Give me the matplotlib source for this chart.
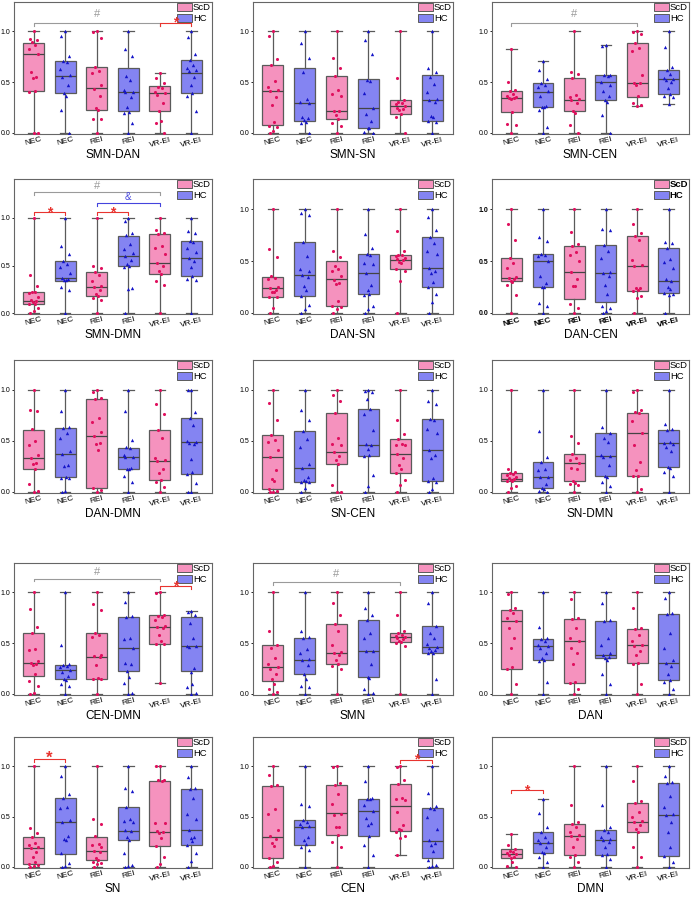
import matplotlib
matplotlib.use('Agg')
import matplotlib.pyplot as plt
from matplotlib.patches import Patch

plt.rcParams['font.family'] = ['Liberation Sans', 'DejaVu Sans']

groups = ['NEC', 'NEC', 'REI', 'REI', 'VR-EI', 'VR-EI']
panels = ['SMN-DAN', 'SMN-SN', 'SMN-CEN',
          'SMN-DMN', 'DAN-SN', 'DAN-CEN',
          'DAN-DMN', 'SN-CEN', 'SN-DMN',
          'CEN-DMN', 'SMN', 'DAN',
          'SN', 'CEN', 'DMN']

# box stats per group: (whisker low, q1, median, q3, whisker high)
smn_dan = [(0, .41, .78, .89, 1), (0, .39, .56, .71, 1), (0, .23, .44, .65, 1),
           (0, .22, .40, .64, 1), (0, .22, .39, .46, .59), (0, .39, .59, .72, 1)]
smn_sn = [(0, .08, .41, .67, 1), (0, .12, .30, .64, 1), (0, .14, .22, .56, 1),
          (0, .05, .25, .53, 1), (0, .19, .27, .32, 1), (0, .12, .32, .57, 1)]
smn_cen = [(0, .21, .34, .41, .83), (0, .26, .40, .49, .71), (0, .22, .32, .54, 1),
           (0, .32, .50, .57, .87), (.27, .35, .49, .89, 1), (.29, .38, .53, .62, 1)]
smn_dmn = [(0, .09, .13, .22, 1), (0, .34, .37, .55, 1), (0, .18, .27, .43, 1),
           (0, .49, .60, .81, 1), (0, .41, .53, .83, 1), (0, .39, .58, .76, 1)]
dan_sn = [(0, .15, .24, .35, 1), (0, .16, .37, .68, 1), (0, .07, .33, .50, 1),
          (0, .18, .38, .57, 1), (0, .42, .51, .56, 1), (0, .25, .43, .73, 1)]
dan_cen = [(0, .31, .34, .53, 1), (0, .25, .50, .57, 1), (0, .13, .39, .64, 1),
           (0, .11, .38, .65, 1), (0, .21, .45, .74, 1), (0, .19, .31, .63, 1)]
dan_dmn = [(0, .22, .33, .61, 1), (0, .15, .37, .63, 1), (0, .04, .55, .91, 1),
           (0, .22, .34, .43, 1), (0, .12, .30, .61, 1), (0, .18, .49, .72, 1)]
sn_cen = [(0, .03, .34, .56, 1), (0, .10, .23, .60, 1), (0, .27, .39, .77, 1),
          (0, .35, .46, .81, 1), (0, .19, .37, .52, 1), (0, .11, .41, .71, 1)]
sn_dmn = [(0, .11, .13, .19, 1), (0, .04, .15, .29, 1), (0, .11, .28, .37, 1),
          (0, .16, .35, .58, 1), (0, .16, .58, .77, 1), (0, .24, .48, .61, 1)]
cen_dmn = [(0, .18, .31, .60, 1), (0, .15, .24, .29, 1), (0, .15, .36, .60, 1),
           (0, .23, .45, .76, 1), (.11, .49, .66, .78, 1), (0, .23, .47, .76, .82)]
smn = [(0, .13, .27, .48, 1), (0, .20, .33, .55, 1), (0, .30, .40, .69, 1),
       (0, .17, .42, .73, 1), (0, .51, .56, .60, 1), (0, .40, .46, .67, 1)]
dan = [(0, .25, .72, .83, 1), (0, .33, .47, .54, 1), (0, .11, .52, .74, 1),
       (0, .35, .38, .72, 1), (0, .31, .48, .64, 1), (0, .14, .31, .79, 1)]
sn = [(0, .03, .19, .30, 1), (0, .13, .45, .68, 1), (0, .07, .16, .30, 1),
      (0, .27, .36, .60, 1), (0, .21, .35, .85, 1), (0, .22, .37, .77, 1)]
cen = [(0, .09, .30, .80, 1), (0, .22, .40, .47, 1), (0, .32, .54, .81, 1),
       (0, .31, .56, .67, 1), (.12, .36, .61, .82, 1), (0, .09, .26, .59, 1)]
dmn = [(0, .09, .13, .18, .33), (0, .14, .24, .35, .67), (0, .12, .31, .43, 1),
       (0, .12, .27, .37, 1), (0, .35, .45, .64, 1), (0, .11, .52, .83, 1)]

# individual subject values per group
smn_dan_pts = [
    [1, .93, .92, .90, .87, .83, .78, .60, .55, .54, .41, .40, 0, 0],
    [1, .96, .76, .71, .70, .63, .57, .55, .47, .39, .36, .23, 0],
    [1, .99, .94, .65, .61, .59, .47, .43, .36, .25, .23, .14, .14, 0],
    [1, .83, .76, .56, .52, .42, .40, .40, .35, .26, .21, .20, .10, 0],
    [.59, .54, .49, .45, .44, .40, .39, .37, .30, .22, .12, .10, 0],
    [1, .95, .78, .72, .67, .64, .62, .61, .55, .47, .39, .36, .22, 0]]
smn_sn_pts = [
    [1, .96, .73, .67, .51, .45, .42, .41, .35, .28, .11, .07, .06, .02, 0],
    [1, .89, .74, .60, .33, .31, .30, .16, .15, .13, .11, .10, 0],
    [1, .74, .64, .56, .42, .38, .36, .22, .22, .18, .14, .10, .07, 0],
    [1, .92, .78, .52, .51, .39, .25, .19, .12, .05, .05, .01, 0],
    [1, .54, .32, .31, .30, .29, .27, .25, .24, .23, .19, .16, 0],
    [1, .64, .60, .55, .48, .40, .33, .32, .31, .17, .16, .12, .11, 0]]
smn_cen_pts = [
    [.83, .50, .42, .41, .38, .36, .35, .34, .34, .33, .21, .09, .08, 0],
    [.71, .62, .53, .49, .47, .45, .41, .36, .27, .26, .26, .23, .06, 0],
    [1, .60, .58, .54, .37, .35, .33, .32, .30, .22, .20, .08, 0],
    [.87, .86, .57, .57, .56, .50, .47, .41, .36, .32, .31, .18, 0],
    [1, .99, .97, .89, .84, .81, .57, .49, .49, .47, .36, .30, .28, .27],
    [1, .85, .65, .62, .58, .54, .53, .52, .50, .44, .38, .36, .35, .29]]
smn_dmn_pts = [
    [1, .40, .28, .22, .22, .21, .17, .14, .13, .12, .10, .09, .05, .02, 0],
    [1, .71, .62, .55, .52, .48, .42, .37, .36, .35, .35, .27, .24, 0],
    [1, .49, .47, .43, .40, .34, .28, .27, .24, .20, .18, .16, .14, 0],
    [1, .97, .84, .82, .73, .67, .63, .60, .56, .52, .49, .48, .26, .25, 0],
    [1, .87, .84, .83, .71, .68, .62, .53, .50, .44, .41, .34, .29, 0],
    [1, .86, .84, .76, .75, .68, .64, .58, .55, .48, .39, .36, .35, 0]]
dan_sn_pts = [
    [1, .62, .54, .36, .34, .33, .25, .24, .22, .20, .20, .15, .15, .05, 0],
    [1, .96, .94, .68, .55, .42, .40, .37, .35, .26, .22, .16, .08, .04, 0],
    [1, .60, .54, .45, .42, .40, .36, .32, .29, .28, .12, .07, .06, .04, 0],
    [1, .76, .63, .57, .56, .48, .47, .38, .27, .22, .18, .17, .07, .04, 0],
    [1, .79, .60, .56, .56, .55, .53, .52, .51, .49, .48, .42, .40, .31, 0],
    [1, .92, .80, .73, .67, .60, .57, .43, .40, .38, .30, .25, .18, .11, 0]]
dan_cen_pts = [
    [1, .86, .70, .53, .48, .43, .35, .34, .33, .31, .30, .27, .17, 0],
    [1, .73, .69, .57, .56, .55, .50, .36, .29, .25, .25, .10, .07, 0],
    [1, .78, .66, .64, .59, .56, .50, .39, .33, .26, .26, .09, .05, 0],
    [1, .81, .80, .65, .60, .53, .39, .38, .36, .27, .18, .07, .05, .02, 0],
    [1, .86, .77, .74, .70, .51, .46, .45, .24, .24, .22, .21, .16, .14, 0],
    [1, .68, .67, .63, .52, .49, .43, .33, .31, .25, .23, .19, .18, .17, 0]]
dan_dmn_pts = [
    [1, .80, .79, .62, .50, .46, .36, .33, .28, .27, .22, .08, .01, 0],
    [1, .79, .64, .63, .58, .53, .40, .37, .26, .25, .15, .14, .14, .01, 0],
    [1, .98, .92, .91, .72, .68, .59, .55, .48, .47, .41, .04, .02, 0],
    [1, .79, .51, .44, .43, .36, .34, .34, .23, .22, .22, .16, .10, 0],
    [1, .86, .76, .61, .53, .33, .31, .30, .22, .19, .12, .10, .05, 0],
    [1, 1, .78, .72, .65, .50, .49, .48, .47, .32, .20, .18, .09, 0, 0]]
sn_cen_pts = [
    [1, .87, .70, .56, .51, .49, .41, .34, .21, .13, .11, .03, .01, 0, 0],
    [1, .80, .70, .60, .52, .44, .27, .23, .15, .12, .11, .10, .10, .04, 0],
    [1, .95, .89, .77, .53, .47, .46, .39, .35, .31, .27, .07, 0, 0],
    [1, .99, .98, .91, .81, .76, .61, .47, .46, .42, .36, .35, .17, .06, 0],
    [1, .70, .57, .52, .47, .46, .46, .37, .33, .26, .22, .19, .12, .07, 0],
    [1, .89, .86, .71, .70, .62, .58, .41, .36, .33, .14, .11, .10, .03, 0]]
sn_dmn_pts = [
    [1, .22, .20, .19, .18, .17, .15, .14, .13, .12, .11, .11, .06, .04, 0],
    [1, .60, .34, .29, .22, .21, .15, .15, .08, .04, .03, .01, 0],
    [1, .55, .48, .37, .33, .31, .28, .23, .22, .11, .09, .08, .07, 0],
    [1, .64, .58, .53, .49, .36, .35, .34, .26, .16, .15, .10, .06, 0],
    [1, .98, .80, .78, .77, .69, .58, .46, .29, .21, .16, .16, .03, 0],
    [1, .66, .62, .61, .49, .48, .47, .44, .40, .24, .23, .20, .16, 0]]
cen_dmn_pts = [
    [1, .84, .66, .60, .44, .43, .32, .31, .30, .29, .20, .13, .08, .01, 0],
    [1, .48, .30, .29, .28, .27, .24, .22, .18, .15, .14, .10, .08, 0],
    [1, .89, .83, .60, .58, .56, .38, .37, .36, .29, .16, .15, .15, 0],
    [1, .91, .77, .76, .55, .54, .45, .31, .30, .23, .17, .11, .01, 0],
    [1, .99, .78, .77, .76, .73, .67, .66, .65, .58, .52, .49, .49, .11],
    [.82, .81, .78, .70, .55, .47, .47, .46, .26, .22, .10, .07, .01, 0]]
smn_pts = [
    [1, .62, .48, .45, .35, .30, .27, .25, .20, .15, .10, .05, .02, 0],
    [1, .62, .56, .55, .44, .40, .34, .33, .29, .20, .15, .08, .07, 0],
    [1, .90, .78, .69, .62, .48, .41, .40, .38, .33, .30, .28, .25, 0],
    [1, .85, .78, .73, .60, .55, .42, .42, .30, .17, .16, .05, .01, 0],
    [1, .78, .62, .60, .58, .57, .56, .55, .54, .52, .51, .50, .47, 0],
    [1, .90, .67, .60, .55, .49, .46, .45, .43, .42, .40, .40, .15, 0]]
dan_pts = [
    [1, .98, .85, .83, .80, .75, .72, .65, .55, .45, .27, .25, .10, 0],
    [1, .66, .55, .54, .52, .48, .47, .45, .40, .35, .33, .32, .12, 0],
    [1, .94, .75, .74, .65, .55, .52, .45, .40, .30, .12, .11, .05, 0],
    [1, .90, .73, .72, .55, .48, .40, .38, .36, .35, .33, .20, .10, 0],
    [1, .85, .65, .64, .58, .52, .48, .47, .42, .38, .31, .30, .10, 0],
    [1, .95, .80, .79, .60, .45, .33, .31, .28, .20, .14, .12, .05, 0]]
sn_pts = [
    [1, .39, .34, .30, .24, .22, .20, .19, .15, .10, .05, .03, .02, .01, 0],
    [1, .90, .72, .68, .60, .59, .47, .45, .31, .28, .27, .14, .04, .01, 0],
    [1, .48, .43, .31, .23, .22, .20, .16, .15, .09, .07, .05, .04, .03, 0],
    [1, .78, .75, .60, .48, .46, .45, .37, .36, .30, .27, .14, .02, .01, 0],
    [1, 1, .86, .86, .85, .44, .44, .36, .35, .34, .29, .21, .10, .03, 0],
    [1, .89, .78, .77, .68, .53, .48, .37, .30, .29, .26, .22, .14, .06, 0]]
cen_pts = [
    [1, .91, .81, .80, .58, .53, .37, .31, .28, .24, .21, .09, .05, .01, 0],
    [1, .63, .61, .47, .45, .43, .41, .40, .30, .27, .23, .20, .17, 0],
    [1, .99, .83, .81, .72, .63, .53, .52, .40, .40, .32, .25, .20, 0],
    [1, .85, .68, .67, .67, .62, .56, .49, .44, .42, .31, .22, .12, 0],
    [1, .99, .86, .82, .68, .67, .66, .55, .42, .38, .37, .35, .31, .29, .12],
    [1, .73, .61, .59, .58, .50, .38, .27, .24, .22, .16, .07, .02, .01, 0]]
dmn_pts = [
    [.33, .22, .18, .16, .15, .14, .13, .12, .10, .09, .05, .01, 0],
    [.67, .54, .40, .35, .30, .27, .25, .24, .20, .15, .14, .10, .05, 0],
    [1, .62, .45, .43, .40, .35, .32, .31, .28, .20, .12, .10, .05, 0],
    [1, .62, .40, .37, .35, .30, .28, .27, .25, .20, .13, .12, .08, 0],
    [1, .85, .65, .64, .55, .50, .46, .45, .42, .38, .35, .20, .10, 0],
    [1, .90, .84, .83, .70, .60, .53, .52, .45, .35, .20, .11, .05, 0]]

all_stats = [smn_dan, smn_sn, smn_cen, smn_dmn, dan_sn, dan_cen, dan_dmn, sn_cen,
             sn_dmn, cen_dmn, smn, dan, sn, cen, dmn]
all_pts = [smn_dan_pts, smn_sn_pts, smn_cen_pts, smn_dmn_pts, dan_sn_pts, dan_cen_pts,
           dan_dmn_pts, sn_cen_pts, sn_dmn_pts, cen_dmn_pts, smn_pts, dan_pts, sn_pts,
           cen_pts, dmn_pts]

pink = '#f592be'
blue = '#8484f2'
pink_dot = '#e0105e'
blue_dot = '#1414c8'
edge = '#5a5a5a'

W, H = 692, 897
fig = plt.figure(figsize=(W / 100, H / 100), dpi=100)

cols = [(14, 212), (253, 453), (492, 689)]
rows = [(2, 134), (179, 314), (360, 493), (563, 695), (737, 868)]

jit = [0, -0.12, 0.12, -0.06, 0.06, -0.15, 0.15, -0.09, 0.09, -0.03, 0.03, -0.13, 0.13, 0, -0.1]


def bracket(ax, x1, x2, y, color, txt, ty, fs=8, leg=0.03):
    ax.plot([x1, x1, x2, x2], [y - leg, y, y, y - leg], color=color, lw=0.8)
    if txt == '*':
        # asterisk glyph sits high in its box, so pull it down
        ax.text((x1 + x2) / 2, ty - 0.06, txt, color=color, ha='center', va='center',
                fontsize=fs, fontweight='bold', zorder=6)
    else:
        ax.text((x1 + x2) / 2, ty, txt, color=color, ha='center', va='center', fontsize=fs)


for k, name in enumerate(panels):
    r, c = divmod(k, 3)
    x0, x1 = cols[c]
    yt, yb = rows[r]
    ax = fig.add_axes([x0 / W, 1 - yb / H, (x1 - x0) / W, (yb - yt) / H])
    ymax = 1.41 if name == 'SMN-DMN' else 1.29
    stats = []
    for lo, q1, med, q3, hi in all_stats[k]:
        stats.append({'whislo': lo, 'q1': q1, 'med': med, 'q3': q3, 'whishi': hi, 'fliers': []})
    bp = ax.bxp(stats, positions=range(1, 7), widths=0.66, patch_artist=True,
                showfliers=False,
                boxprops=dict(edgecolor=edge, linewidth=0.9),
                medianprops=dict(color='#444444', linewidth=0.9),
                whiskerprops=dict(color=edge, linewidth=0.9),
                capprops=dict(color=edge, linewidth=0.9), capwidths=0.33)
    for i, b in enumerate(bp['boxes']):
        b.set_facecolor(pink if i % 2 == 0 else blue)
    for i, vals in enumerate(all_pts[k]):
        xs = [i + 1 + jit[j % len(jit)] for j in range(len(vals))]
        if i % 2 == 0:
            ax.scatter(xs, vals, s=5, color=pink_dot, marker='o', zorder=3, linewidths=0)
        else:
            ax.scatter(xs, vals, s=6, color=blue_dot, marker='^', zorder=3, linewidths=0)

    ax.set_xlim(0.38, 6.65)
    ax.set_ylim(-0.01, ymax)
    ax.set_yticks([0, 0.5, 1.0])
    ax.set_yticklabels(['0.0', '0.5', '1.0'], fontsize=5)
    bold = 'bold' if name == 'DAN-CEN' else 'normal'
    ax.set_xticks(range(1, 7))
    ax.set_xticklabels(groups, fontsize=6, rotation=15, fontweight=bold)
    for lab in ax.get_yticklabels():
        lab.set_fontweight(bold)
    ax.tick_params(axis='x', length=0, pad=1.5)
    ax.tick_params(axis='y', length=1.5, width=0.6, pad=1)
    for s in ax.spines.values():
        s.set_color('#666666')
        s.set_linewidth(0.8)
    ax.set_xlabel(name, fontsize=8.5, labelpad=0.5)

    handles = [Patch(facecolor=pink, edgecolor=edge, linewidth=0.7, label='ScD'),
               Patch(facecolor=blue, edgecolor=edge, linewidth=0.7, label='HC')]
    leg = ax.legend(handles=handles, loc='upper right', frameon=False, fontsize=6.8,
                    handlelength=1.6, handleheight=1.0, handletextpad=0.1,
                    labelspacing=0.15, borderaxespad=0.0, borderpad=0.1)
    leg.set_zorder(4)
    if name == 'DAN-CEN':
        for t in leg.get_texts():
            t.set_fontweight('bold')

    gray = '#9a9a9a'
    red = '#e8342f'
    if name == 'SMN-DAN':
        bracket(ax, 1, 5, 1.08, gray, '#', 1.17)
        bracket(ax, 5, 6, 1.08, red, '*', 1.15, fs=10)
    elif name == 'SMN-CEN':
        bracket(ax, 1, 5, 1.08, gray, '#', 1.17)
    elif name == 'SMN-DMN':
        bracket(ax, 1, 5, 1.27, gray, '#', 1.34)
        bracket(ax, 3, 5, 1.16, '#4444dd', '&', 1.22, fs=7)
        bracket(ax, 1, 2, 1.06, red, '*', 1.12, fs=10)
        bracket(ax, 3, 4, 1.06, red, '*', 1.12, fs=10)
    elif name == 'CEN-DMN':
        bracket(ax, 1, 5, 1.13, gray, '#', 1.2, leg=0.02)
        bracket(ax, 5, 6, 1.06, red, '*', 1.12, fs=10)
    elif name == 'SMN':
        bracket(ax, 1, 5, 1.10, gray, '#', 1.18)
    elif name == 'SN':
        bracket(ax, 1, 2, 1.07, red, '*', 1.14, fs=12)
    elif name == 'CEN':
        bracket(ax, 5, 6, 1.06, red, '*', 1.13, fs=10)
    elif name == 'DMN':
        bracket(ax, 1, 2, 0.76, red, '*', 0.82, fs=10)

fig.savefig('out.png', dpi=100)
